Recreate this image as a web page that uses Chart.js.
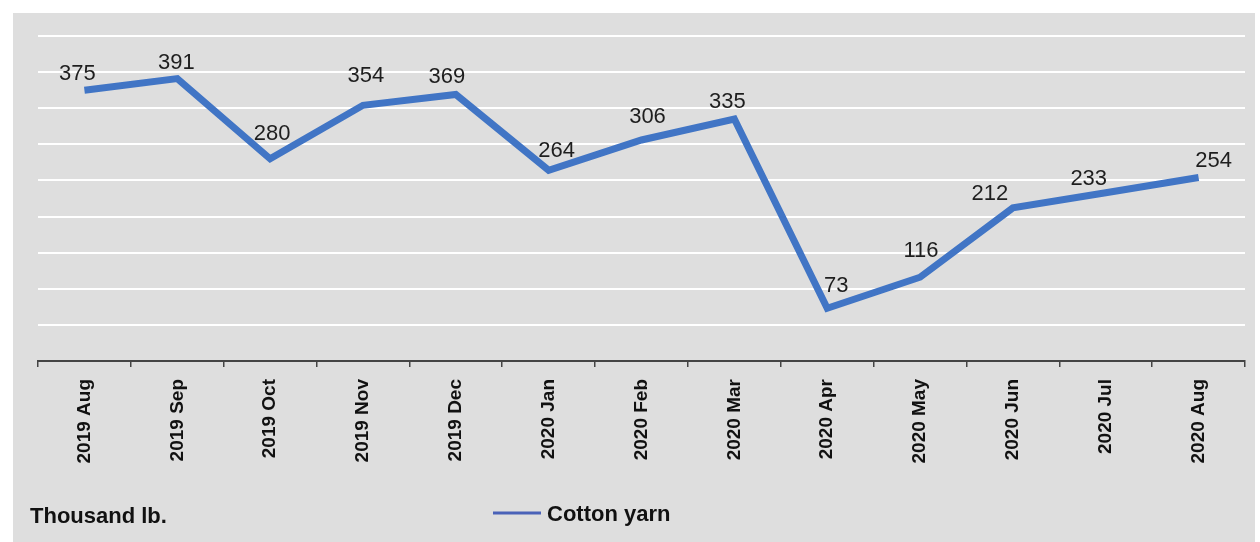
<!DOCTYPE html>
<html>
<head>
<meta charset="utf-8">
<script src="https://cdn.jsdelivr.net/npm/chart.js@4"></script>
<style>
  html, body { margin: 0; padding: 0; background: #ffffff; }
  #wrap { width: 1260px; height: 542px; position: relative; }
</style>
</head>
<body>
<div id="wrap"><canvas id="c" width="1260" height="542"></canvas></div>
<script>
const categories = ['2019 Aug','2019 Sep','2019 Oct','2019 Nov','2019 Dec','2020 Jan','2020 Feb','2020 Mar','2020 Apr','2020 May','2020 Jun','2020 Jul','2020 Aug'];
const cottonYarn = [375, 391, 280, 354, 369, 264, 306, 335, 73, 116, 212, 233, 254];
const yMin = 0;
const yMax = 450;
const yStep = 50;
const seriesName = 'Cotton yarn';
const unitLabel = 'Thousand lb.';
// label placement nudges (pixels, relative to each point)
const labelNudgeX = [-7, -1, 2, 3, -9, 8, 6, -7, 9, 1, -23, -17, 15];
const labelGapY = [10, 10, 19, 23, 12, 13, 17, 11, 16, 20, 8, 8, 11];

const FONT = '"Liberation Sans", Arial, Helvetica, sans-serif';
const LINE_COLOR = '#4175c5';

const bgPlugin = {
  id: 'bg',
  beforeDraw(chart) {
    const ctx = chart.ctx;
    ctx.save();
    ctx.fillStyle = '#ffffff';
    ctx.fillRect(0, 0, chart.width, chart.height);
    ctx.fillStyle = '#dedede';
    ctx.fillRect(13, 13, chart.width - 18, chart.height - 13);
    ctx.restore();
  }
};

const labelPlugin = {
  id: 'valueLabels',
  afterDatasetsDraw(chart) {
    const ctx = chart.ctx;
    const meta = chart.getDatasetMeta(0);
    ctx.save();
    ctx.font = '22px ' + FONT;
    ctx.fillStyle = '#1e1e1e';
    ctx.textAlign = 'center';
    ctx.textBaseline = 'alphabetic';
    meta.data.forEach((el, i) => {
      ctx.fillText(String(cottonYarn[i]), el.x + labelNudgeX[i], el.y - labelGapY[i]);
    });
    ctx.restore();
  },
  afterDraw(chart) {
    const ctx = chart.ctx;
    ctx.save();
    ctx.font = 'bold 22px ' + FONT;
    ctx.fillStyle = '#111111';
    ctx.textBaseline = 'alphabetic';
    ctx.textAlign = 'left';
    ctx.fillText(unitLabel, 30, 523);
    // legend
    ctx.strokeStyle = '#4a62b8';
    ctx.lineWidth = 3;
    ctx.beginPath();
    ctx.moveTo(493, 513);
    ctx.lineTo(541, 513);
    ctx.stroke();
    ctx.fillText(seriesName, 547, 521);
    ctx.restore();
  }
};

new Chart(document.getElementById('c'), {
  type: 'line',
  data: {
    labels: categories,
    datasets: [{
      label: seriesName,
      data: cottonYarn,
      borderColor: LINE_COLOR,
      backgroundColor: LINE_COLOR,
      borderWidth: 7,
      pointRadius: 0,
      pointHoverRadius: 0,
      tension: 0,
      borderJoinStyle: 'miter',
      fill: false
    }]
  },
  options: {
    responsive: false,
    animation: false,
    devicePixelRatio: 1,
    layout: { padding: { left: 38, right: 15, top: 36, bottom: 0 } },
    plugins: {
      legend: { display: false },
      tooltip: { enabled: false },
      title: { display: false }
    },
    scales: {
      x: {
        type: 'category',
        offset: true,
        afterFit(scale) { scale.height = 181; },
        grid: {
          offset: true,
          drawOnChartArea: false,
          drawTicks: true,
          tickLength: 6,
          color: '#444444',
          lineWidth: 1.5
        },
        border: { display: true, color: '#444444', width: 2 },
        ticks: {
          autoSkip: false,
          minRotation: 90,
          maxRotation: 90,
          padding: 12,
          color: '#111111',
          font: { family: FONT, size: 19, weight: 'bold' }
        }
      },
      y: {
        min: yMin,
        max: yMax,
        afterFit(scale) { scale.width = 0; },
        grid: {
          color: '#ffffff',
          lineWidth: 2,
          drawTicks: false
        },
        border: { display: false },
        ticks: { display: false, stepSize: yStep }
      }
    }
  },
  plugins: [bgPlugin, labelPlugin]
});
</script>
</body>
</html>
